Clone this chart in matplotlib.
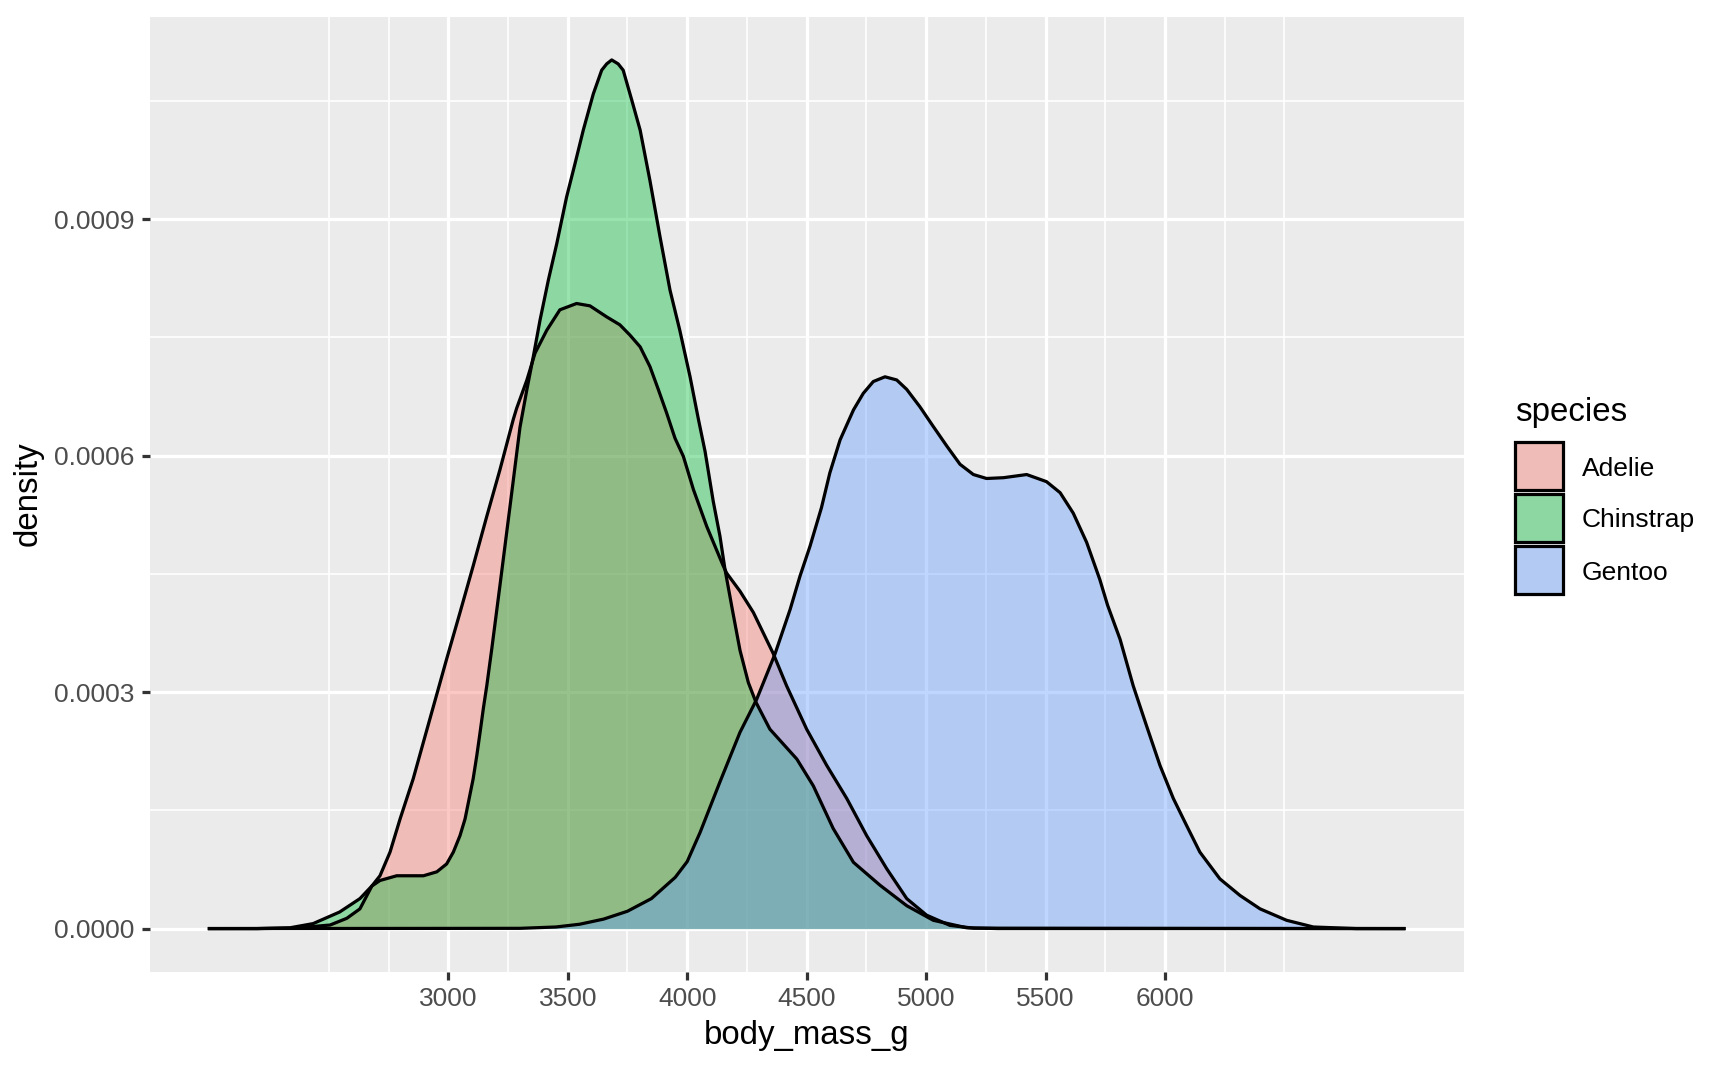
import matplotlib
matplotlib.use("Agg")
import matplotlib.pyplot as plt
from matplotlib.patches import Rectangle
from matplotlib.ticker import FixedLocator

plt.rcParams['font.family'] = ['Liberation Sans', 'DejaVu Sans']

species = ['Adelie', 'Chinstrap', 'Gentoo']
colors = ['#F8766D', '#00BA38', '#619CFF']

# density curves (body_mass_g, density)
adelie_x = [2000, 2200, 2350, 2410, 2505, 2575, 2630, 2680, 2714, 2756, 2798, 2853,
            2910, 2958, 2993, 3049, 3104, 3161, 3216, 3272, 3286, 3329, 3363, 3412,
            3467, 3537, 3593, 3663, 3718, 3760, 3803, 3844, 3879, 3914, 3949, 3984,
            4026, 4082, 4151, 4165, 4221, 4277, 4360, 4416, 4500, 4584, 4668, 4751,
            4835, 4919, 5002, 5100, 5200, 7000]
adelie_y = [0, 0, 0.5e-6, 2e-6, 4.5e-6, 1.3e-5, 2.5e-5, 5.4e-5, 6.7e-5, 9.7e-5, 1.39e-4, 1.9e-4,
            2.52e-4, 3.04e-4, 3.42e-4, 4.01e-4, 4.6e-4, 5.23e-4, 5.82e-4, 6.46e-4, 6.6e-4, 6.96e-4, 7.3e-4, 7.59e-4,
            7.85e-4, 7.93e-4, 7.9e-4, 7.76e-4, 7.66e-4, 7.53e-4, 7.38e-4, 7.13e-4, 6.84e-4, 6.54e-4, 6.22e-4, 5.99e-4,
            5.57e-4, 5.1e-4, 4.6e-4, 4.51e-4, 4.28e-4, 4.01e-4, 3.49e-4, 3.08e-4, 2.53e-4, 2.07e-4, 1.65e-4, 1.18e-4,
            7.6e-5, 3.8e-5, 1.7e-5, 4e-6, 0.5e-6, 0]

chinstrap_x = [2000, 2200, 2337, 2434, 2545, 2630, 2680, 2714, 2784, 2896, 2952, 2993,
               3021, 3049, 3070, 3090, 3104, 3119, 3133, 3147, 3161, 3182, 3216, 3258,
               3300, 3329, 3356, 3384, 3419, 3454, 3495, 3530, 3565, 3607, 3642, 3663,
               3684, 3711, 3732, 3768, 3803, 3844, 3886, 3928, 3969, 4012, 4047, 4075,
               4109, 4137, 4158, 4190, 4221, 4256, 4288, 4346, 4459, 4528, 4611, 4696,
               4807, 4919, 5030, 5170, 5300, 7000]
chinstrap_y = [0, 0, 1e-6, 6.3e-6, 2.1e-5, 3.8e-5, 5.4e-5, 6.1e-5, 6.7e-5, 6.7e-5, 7.2e-5, 8.2e-5,
               9.7e-5, 1.18e-4, 1.39e-4, 1.69e-4, 1.9e-4, 2.19e-4, 2.49e-4, 2.8e-4, 3.08e-4, 3.55e-4, 4.35e-4, 5.35e-4,
               6.36e-4, 6.84e-4, 7.26e-4, 7.72e-4, 8.23e-4, 8.69e-4, 9.28e-4, 9.7e-4, 1.013e-3, 1.059e-3, 1.089e-3, 1.097e-3,
               1.102e-3, 1.097e-3, 1.089e-3, 1.051e-3, 1.013e-3, 9.49e-4, 8.78e-4, 8.1e-4, 7.59e-4, 7.0e-4, 6.46e-4, 6.05e-4,
               5.42e-4, 4.98e-4, 4.56e-4, 4.03e-4, 3.53e-4, 3.12e-4, 2.87e-4, 2.53e-4, 2.15e-4, 1.81e-4, 1.27e-4, 8.4e-5,
               5.5e-5, 2.9e-5, 1.05e-5, 1e-6, 0, 0]

gentoo_x = [2000, 3300, 3450, 3550, 3650, 3750, 3850, 3950, 4000, 4054, 4137, 4221,
            4291, 4367, 4431, 4472, 4514, 4562, 4597, 4640, 4696, 4737, 4779, 4828,
            4877, 4919, 4974, 5030, 5087, 5142, 5198, 5253, 5324, 5421, 5504, 5561,
            5616, 5672, 5727, 5760, 5812, 5867, 5923, 5979, 6035, 6090, 6146, 6230,
            6314, 6398, 6509, 6621, 6800, 7000]
gentoo_y = [0, 0.3e-6, 2e-6, 5.5e-6, 1.2e-5, 2.2e-5, 3.8e-5, 6.5e-5, 8.5e-5, 1.22e-4, 1.86e-4, 2.49e-4,
            2.91e-4, 3.48e-4, 4.05e-4, 4.47e-4, 4.85e-4, 5.34e-4, 5.78e-4, 6.2e-4, 6.58e-4, 6.79e-4, 6.94e-4, 7.0e-4,
            6.96e-4, 6.84e-4, 6.62e-4, 6.37e-4, 6.12e-4, 5.89e-4, 5.76e-4, 5.71e-4, 5.72e-4, 5.76e-4, 5.67e-4, 5.53e-4,
            5.27e-4, 4.9e-4, 4.43e-4, 4.1e-4, 3.67e-4, 3.08e-4, 2.57e-4, 2.07e-4, 1.65e-4, 1.31e-4, 9.7e-5, 6.3e-5,
            4.2e-5, 2.5e-5, 1.05e-5, 2e-6, 0, 0]

xs = [adelie_x, chinstrap_x, gentoo_x]
ys = [adelie_y, chinstrap_y, gentoo_y]

x_breaks = [3000, 3500, 4000, 4500, 5000, 5500, 6000]
x_minor = [2500, 2750, 3250, 3750, 4250, 4750, 5250, 5750, 6250, 6500]
y_breaks = [0, 0.0003, 0.0006, 0.0009]
y_minor = [0.00015, 0.00045, 0.00075, 0.00105]

W, H, DPI = 1728, 1067, 216
fig = plt.figure(figsize=(W / DPI, H / DPI), dpi=DPI)
fig.patch.set_facecolor('white')

# panel in pixels
pl, pr, pt, pb = 149.7, 1463.6, 16.5, 972
ax = fig.add_axes([pl / W, 1 - pb / H, (pr - pl) / W, (pb - pt) / H])
ax.set_facecolor('#EBEBEB')
for s in ax.spines.values():
    s.set_visible(False)

lw = 1.07
for x, y, c in zip(xs, ys, colors):
    ax.fill_between(x, 0, y, color=c, alpha=0.4, lw=0)
    ax.plot(x, y, color='black', lw=lw, solid_joinstyle='round')

xmin, xmax = 2000, 7000
ymax = max(max(y) for y in ys)
ax.set_xlim(xmin - 0.05 * (xmax - xmin), xmax + 0.05 * (xmax - xmin))
ax.set_ylim(-0.05 * ymax, 1.05 * ymax)

ax.xaxis.set_major_locator(FixedLocator(x_breaks))
ax.xaxis.set_minor_locator(FixedLocator(x_minor))
ax.yaxis.set_major_locator(FixedLocator(y_breaks))
ax.yaxis.set_minor_locator(FixedLocator(y_minor))
ax.set_yticklabels([f'{v:.4f}' for v in y_breaks])
ax.set_axisbelow(True)
ax.grid(which='major', color='white', lw=lw)
ax.grid(which='minor', color='white', lw=lw / 2)
ax.tick_params(which='major', length=2.75, width=lw, color='#333333',
               labelcolor='#4D4D4D', labelsize=8.8, pad=2.4)
ax.tick_params(which='minor', length=0)

fig.text(806.6 / W, 1 - 1044 / H, 'body_mass_g', fontsize=11, ha='center', va='baseline')
fig.text(28 / W, 1 - 494 / H, 'density', fontsize=11, rotation=90, ha='center', va='center')

# legend drawn in pixel space
lax = fig.add_axes([0, 0, 1, 1])
lax.set_xlim(0, W)
lax.set_ylim(H, 0)
lax.axis('off')
lax.text(1515, 421, 'species', fontsize=11, ha='left', va='baseline')
for i, (name, c) in enumerate(zip(species, colors)):
    top = 442 + 52 * i
    lax.add_patch(Rectangle((1515, top), 47.5, 47.5, facecolor='#EBEBEB', edgecolor='none'))
    lax.add_patch(Rectangle((1515, top), 47.5, 47.5, facecolor=c, alpha=0.4, edgecolor='none'))
    lax.add_patch(Rectangle((1515, top), 47.5, 47.5, facecolor='none', edgecolor='black', lw=lw))
    lax.text(1582, top + 26.5, name, fontsize=8.8, ha='left', va='center')

fig.savefig('out.png', dpi=DPI)
